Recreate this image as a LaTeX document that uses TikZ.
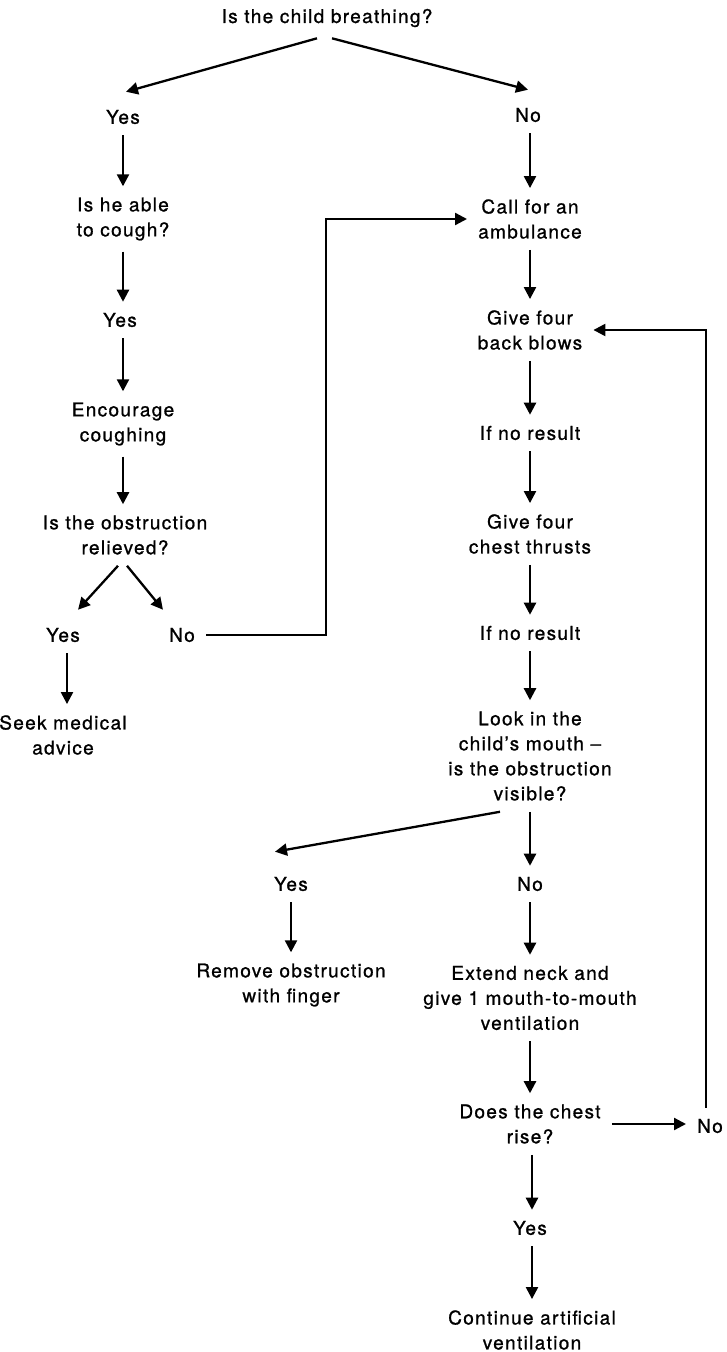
\documentclass[tikz,border=0pt]{standalone}
\usepackage{fontspec}
\setmainfont{TeX Gyre Heros}[LetterSpace=7, FakeBold=1]
\usetikzlibrary{arrows.meta}
\begin{document}
\begin{tikzpicture}[x=1pt,y=-1pt,
  txt/.style={font=\fontsize{19}{25}\selectfont, align=center, inner sep=11pt},
  conn/.style={line width=2.3pt},
  arr/.style={conn, -{Triangle[length=12pt,width=12pt]}}]
\useasboundingbox (0,0) rectangle (726,1352);

% left branch
\node[txt] (q1)    at (327,18)  {Is the child breathing?};
\node[txt] (y1)    at (123,117) {Yes};
\node[txt] (cough) at (123,219) {Is he able\\to cough?};
\node[txt] (y2)    at (120,320) {Yes};
\node[txt] (enc)   at (123,424) {Encourage\\coughing};
\node[txt] (rel)   at (125,535) {Is the obstruction\\relieved?};
\node[txt] (y3)    at (63,635)  {Yes};
\node[txt] (n3)    at (182,635) {No};
\node[txt] (seek)  at (63,735)  {Seek medical\\advice};

% right branch
\node[txt] (n1)    at (528,115) {No};
\node[txt] (amb)   at (530,219) {Call for an\\ambulance};
\node[txt] (bb)    at (530,330) {Give four\\back blows};
\node[txt] (r1)    at (530,433) {If no result};
\node[txt] (ct)    at (530,534) {Give four\\chest thrusts};
\node[txt] (r2)    at (530,633) {If no result};
\node[txt] (look)  at (530,756) {Look in the\\child’s mouth --\\is the obstruction\\visible?};
\node[txt] (y4)    at (291,884) {Yes};
\node[txt] (n4)    at (530,884) {No};
\node[txt] (rem)   at (291,985) {Remove obstruction\\with finger};
\node[txt] (ext)   at (530,998) {Extend neck and\\give 1 mouth-to-mouth\\ventilation};
\node[txt] (chest) at (530,1124) {Does the chest\\rise?};
\node[txt] (n5)    at (710,1126) {No};
\node[txt] (y5)    at (530,1228) {Yes};
\node[txt] (cont)  at (532,1330) {Continue artificial\\ventilation};

\coordinate (j1) at (326,635);

% connectors
\draw[arr] ([xshift=-10pt]q1.south) -- ([xshift=3pt,yshift=7pt]y1.north);
\draw[arr] ([xshift=5pt]q1.south) -- ([yshift=7pt]n1.north);
\draw[arr] (y1) -- (cough);
\draw[arr] (cough.south) -- (cough.south |- y2.north);
\draw[arr] (enc.north |- y2.south) -- (enc.north);
\draw[arr] (enc.south) -- (enc.south |- rel.north);
\draw[arr] ([xshift=-7pt]rel.south) -- ([xshift=15pt,yshift=7pt]y3.north);
\draw[arr] ([xshift=2pt]rel.south) -- ([xshift=-19pt,yshift=7pt]n3.north);
\draw[arr] ([xshift=4pt]y3.south) -- ([xshift=4pt]seek.north);
\draw[arr] (n3.east) -- (j1) -- (j1 |- amb.west) -- (amb.west);

\draw[arr] (amb.north |- n1.south) -- (amb.north);
\draw[arr] (amb) -- (bb);
\draw[arr] (bb) -- (r1);
\draw[arr] (r1) -- (ct);
\draw[arr] (ct) -- (r2);
\draw[arr] (r2) -- (look);
\draw[arr] ([xshift=-30pt]look.south) -- ([xshift=-16pt,yshift=14pt]y4.north);
\draw[arr] (look) -- (n4);
\draw[arr] (y4) -- (rem);
\draw[arr] (n4) -- (ext);
\draw[arr] (ext) -- (chest);
\draw[arr] (chest.east) -- (chest.east -| n5.west);
\draw[arr] ([xshift=2pt]chest.south) -- ([xshift=2pt]y5.north);
\draw[arr] ([xshift=2pt]y5.south) -- ([xshift=2pt]y5.south |- cont.north);
\draw[arr] ([xshift=-4pt]n5.north) -- ([xshift=-4pt]n5.north |- bb.east) -- (bb.east);
\end{tikzpicture}
\end{document}
